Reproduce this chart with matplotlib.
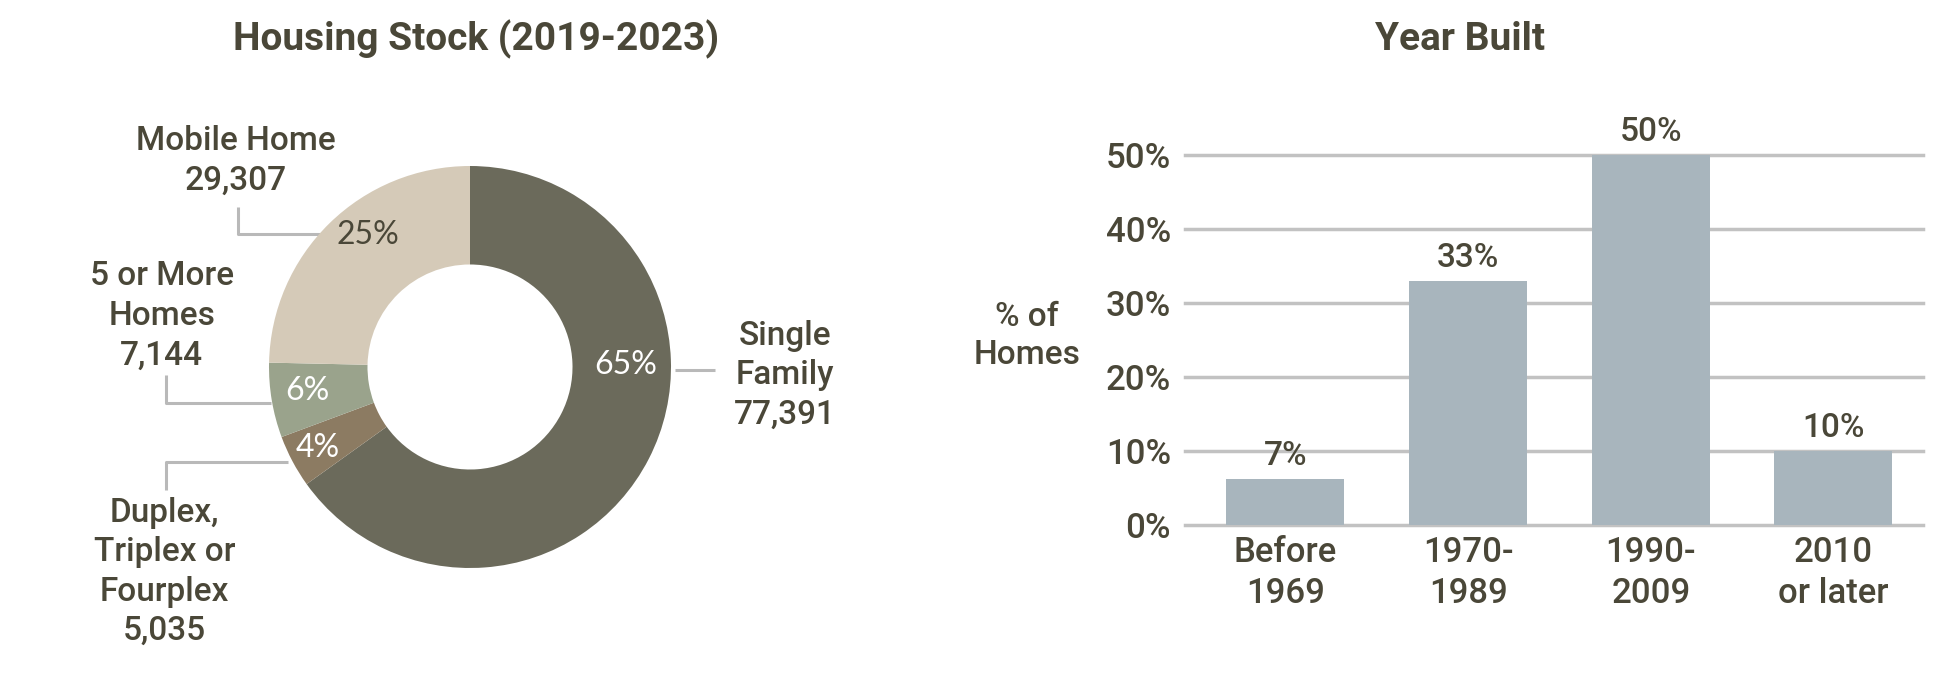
import numpy as np
import matplotlib
matplotlib.use("Agg")
import matplotlib.pyplot as plt

# ---------------- data ----------------
stock_names = ["Single\nFamily", "Duplex,\nTriplex or\nFourplex", "5 or More\nHomes", "Mobile Home"]
stock_counts = [77391, 5035, 7144, 29307]
stock_pct_labels = ["65%", "4%", "6%", "25%"]

year_cats = ["Before\n1969", "1970-\n1989", "1990-\n2009", "2010\nor later"]
year_share = [6.2, 33.0, 50.0, 10.0]
year_labels = ["7%", "33%", "50%", "10%"]
yticks = [0, 10, 20, 30, 40, 50]

# ---------------- style ----------------
TXT = "#4a4738"
LEAD = "#b9b9b9"
GRID = "#c2c2c2"
BAR = "#a8b5bd"
wedge_colors = ["#6b6a5b", "#8c7b62", "#9aa38c", "#d5cab8"]
pct_colors = ["white", "white", "white", TXT]
FONT = ["Roboto", "DejaVu Sans"]
PCTFONT = ["Lato", "DejaVu Sans"]

plt.rcParams["font.family"] = FONT
plt.rcParams["font.weight"] = "medium"

W, H = 1952, 680
fig = plt.figure(figsize=(W / 100, H / 100), dpi=100)

# ---------------- donut ----------------
cx, cy, R = 470, H - 367, 201
ax1 = fig.add_axes([0, 0, 0.5, 1])
ax1.pie(stock_counts, colors=wedge_colors, startangle=90, counterclock=False,
        radius=1.0, wedgeprops=dict(width=0.49, linewidth=0))
ax1.set_xlim(-cx / R, (W / 2 - cx) / R)
ax1.set_ylim(-cy / R, (H - cy) / R)
ax1.set_aspect("auto")
ax1.axis("off")

# percent labels inside ring
pct_pos = [(0.776, 0.01), (-0.756, -0.403), (-0.811, -0.12), (-0.507, 0.657)]
for (px, py), s, c in zip(pct_pos, stock_pct_labels, pct_colors):
    ax1.text(px, py, s, ha="center", va="center", fontsize=23, color=c,
             family=PCTFONT, fontweight="normal")

# outside labels
name_pos = [(1.566, -0.04), (-1.52, -1.02), (-1.534, 0.254), (-1.164, 1.025)]
for (px, py), name, n in zip(name_pos, stock_names, stock_counts):
    ax1.text(px, py, f"{name}\n{n:,}", ha="center", va="center", fontsize=24,
             color=TXT, linespacing=1.3)

# leader lines
leaders = [
    ([1.02, 1.22], [-0.017, -0.017]),
    ([-1.514, -1.514, -0.903], [-0.612, -0.473, -0.473]),
    ([-1.514, -1.514, -0.99], [-0.04, -0.179, -0.179]),
    ([-1.154, -1.154, -0.746], [0.796, 0.662, 0.662]),
]
for xs, ys in leaders:
    ax1.plot(xs, ys, color=LEAD, lw=2.2, solid_capstyle="butt", zorder=0)

fig.text(476 / W, 1 - 39 / H, "Housing Stock (2019-2023)", ha="center", va="center",
         fontsize=28, fontweight="bold", color=TXT)

# ---------------- bars ----------------
ax2 = fig.add_axes([1185 / W, 1 - 525 / H, 738 / W, 370 / H])
x = np.arange(len(year_cats))
ax2.bar(x, year_share, width=0.646, color=BAR, zorder=2)
ax2.set_ylim(0, 50)
ax2.set_xlim(-0.55, 3.49)
ax2.set_yticks(yticks)
ax2.set_yticklabels([f"{t}%" for t in yticks])
ax2.set_xticks(x)
ax2.set_xticklabels(year_cats, linespacing=1.3)
ax2.tick_params(axis="both", length=0, labelsize=25, labelcolor=TXT)
ax2.tick_params(axis="y", pad=10)
ax2.tick_params(axis="x", pad=8)
for s in ax2.spines.values():
    s.set_visible(False)
for t in yticks:
    ax2.axhline(t, color=GRID, lw=2.5, zorder=1, clip_on=False)
for xi, v, lab in zip(x, year_share, year_labels):
    ax2.annotate(lab, (xi, v), xytext=(0, 5), textcoords="offset points",
                 ha="center", va="bottom", fontsize=24, color=TXT, annotation_clip=False)

fig.text(1027 / W, 1 - 336 / H, "% of\nHomes", ha="center", va="center",
         fontsize=24, color=TXT, linespacing=1.25)
fig.text(1460 / W, 1 - 39 / H, "Year Built", ha="center", va="center",
         fontsize=28, fontweight="bold", color=TXT)

fig.savefig("out.png", dpi=100, facecolor="white")
